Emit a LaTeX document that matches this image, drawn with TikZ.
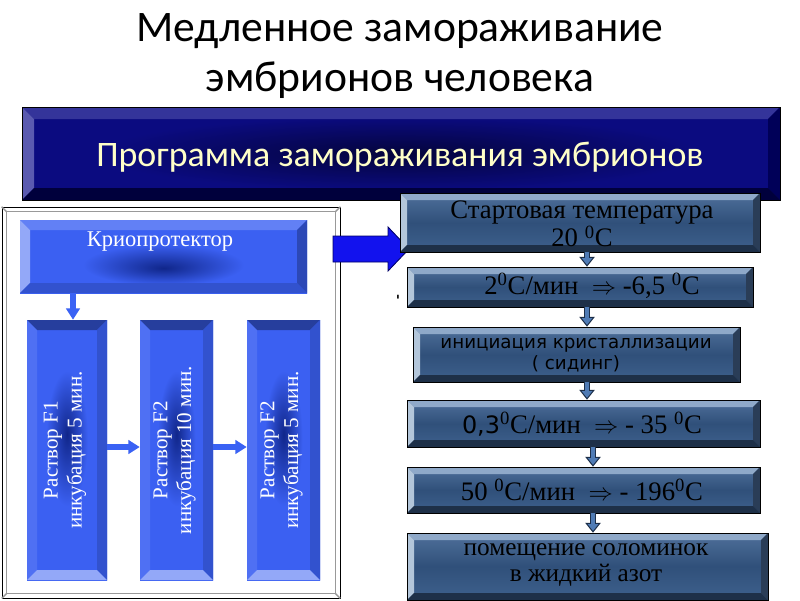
\documentclass[tikz,border=0pt]{standalone}
\usepackage{fontspec}
\setmainfont{Liberation Serif}
\newfontfamily\titlefont{Carlito}
\newfontfamily\widesans{DejaVu Sans}
\usetikzlibrary{fit, arrows.meta, calc}

\definecolor{navyface}{HTML}{0B0B80}
\definecolor{navyspot}{HTML}{04043C}
\definecolor{navytop}{HTML}{34349A}
\definecolor{navyleft}{HTML}{5A5AB0}
\definecolor{navyright}{HTML}{000058}
\definecolor{navybot}{HTML}{00003C}
\definecolor{bannerink}{HTML}{FFFFC8}
\definecolor{boxblue}{HTML}{3B60F2}
\definecolor{spotblue}{HTML}{10268A}
\definecolor{arrowblue}{HTML}{3A62F4}
\definecolor{bigblue}{HTML}{1212EE}
\definecolor{steelT}{HTML}{6E90BC}
\definecolor{steelM}{HTML}{30507A}
\definecolor{steelB}{HTML}{4C71A0}
\definecolor{steeltop}{HTML}{8FA9C9}
\definecolor{steelleft}{HTML}{B3C6DA}
\definecolor{steelright}{HTML}{2A3D57}
\definecolor{steelbot}{HTML}{1E3048}
\definecolor{steelarrow}{HTML}{4F7BB5}
\definecolor{steeldark}{HTML}{1C2E48}

\pgfdeclareradialshading{navyshade}{\pgfpoint{0bp}{0bp}}{color(0bp)=(navyspot); color(20bp)=(navyface); color(50bp)=(navyface)}
\pgfdeclareradialshading{cryoshade}{\pgfpoint{0bp}{-8bp}}{color(0bp)=(spotblue); color(14bp)=(boxblue); color(50bp)=(boxblue)}
\pgfdeclareradialshading{solshade}{\pgfpoint{0bp}{3bp}}{color(0bp)=(spotblue); color(13bp)=(boxblue); color(50bp)=(boxblue)}
\pgfdeclareverticalshading{steelshade}{100bp}{color(0bp)=(steelB); color(50bp)=(steelM); color(100bp)=(steelT)}

\tikzset{
  bevel/.style n args={5}{path picture={
    \coordinate (pnw) at (path picture bounding box.north west);
    \coordinate (pse) at (path picture bounding box.south east);
    \coordinate (pne) at (pnw -| pse);
    \coordinate (psw) at (pnw |- pse);
    \fill[#2] (pnw) -- (pne) -- ([shift={(-#1,#1)}]pne) -- ([shift={(#1,#1)}]pnw) -- cycle;
    \fill[#3] (pnw) -- (psw) -- ([shift={(#1,-#1)}]psw) -- ([shift={(#1,#1)}]pnw) -- cycle;
    \fill[#4] (pne) -- (pse) -- ([shift={(-#1,-#1)}]pse) -- ([shift={(-#1,#1)}]pne) -- cycle;
    \fill[#5] (psw) -- (pse) -- ([shift={(-#1,-#1)}]pse) -- ([shift={(#1,-#1)}]psw) -- cycle;
  }},
  navybox/.style={draw=black, line width=0.6pt, shade, shading=navyshade, inner sep=0pt,
    bevel={12}{navytop}{navyleft}{navyright}{navybot}},
  cryobox/.style={shade, shading=cryoshade, inner sep=0pt,
    bevel={10}{boxblue!80!white}{boxblue!55!white}{boxblue!75!black}{boxblue!85!black}},
  solbox/.style={shade, shading=solshade, inner sep=0pt,
    bevel={10}{boxblue!65!black}{boxblue!90!white}{boxblue!85!black}{boxblue!55!white}},
  stepbox/.style={draw=black, line width=0.5pt, shade, shading=steelshade, inner sep=0pt,
    bevel={7}{steeltop}{steelleft}{steelright}{steelbot}},
  steptext/.style={align=center, inner sep=0pt, font=\fontsize{19}{14}\selectfont},
  titletext/.style={font=\titlefont\fontsize{31}{36}\selectfont, align=center, inner sep=0pt},
  bannertext/.style={text=bannerink, inner sep=0pt, font=\titlefont\fontsize{25.5}{30}\selectfont},
  whitetext/.style={text=white, align=center, inner sep=0pt, font=\fontsize{15}{17}\selectfont},
  framegray/.style={draw=gray!80, line width=1pt},
  bluearrow/.style={draw=arrowblue, line width=3.6pt, -{Triangle[length=8pt, width=9.5pt]}},
  steeledge/.style={draw=steeldark, line width=4.6pt,
    -{Triangle[length=7pt, width=11pt, line width=0.7pt, fill=steelarrow]}},
  steelcore/.style={draw=steelarrow, line width=3.2pt, shorten >=6.5pt},
  bigarrow/.style={fill=bigblue, draw=blue!40!black, line width=0.6pt}
}

\begin{document}
\begin{tikzpicture}[x=0.025cm, y=-0.025cm]
  \useasboundingbox (0,0) rectangle (800,600);
  \node[titletext] (title) at (400,56) {Медленное замораживание\\эмбрионов человека};
  \node[navybox, fit={(22,107)(780,200)}] (banner) {};
  \node[bannertext] (bannert) at (400,157) {Программа замораживания эмбрионов};

  % left panel with the solutions
  \node[draw=black, line width=0.5pt, fill=white, inner sep=0pt, fit={(2,207)(340,598)}] (panel) {};
  \draw[framegray] ([shift={(5,5)}]panel.north west) rectangle ([shift={(-5,-5)}]panel.south east);
  \foreach \c/\dx/\dy in {north west/5/5, north east/-5/5, south west/5/-5, south east/-5/-5}
    \draw[framegray] (panel.\c) -- ++(\dx,\dy);
  \node[cryobox, fit={(20,220)(307,293)}] (cryo) {};
  \node[whitetext, font=\fontsize{16}{18}\selectfont] (cryot) at (160,242) {Криопротектор};
  \foreach \n/\xa/\xb/\txt in {f1/27/107/{Раствор F1\\инкубация 5 мин.},
      f2/140/213/{Раствор F2\\инкубация 10 мин.}, f3/247/320/{Раствор F2\\инкубация 5 мин.}}{
    \node[solbox, fit={(\xa,320)(\xb,580)}] (\n) {};
    \node[whitetext, rotate=90] (t\n) at ([xshift=-0.05cm]\n.center) {\txt};
  }
  \draw[bluearrow] (cryo.south -| 73,0) -- (f1.north -| 73,0);
  \draw[bluearrow] (f1.east |- 0,447) -- (f2.west |- 0,447);
  \draw[bluearrow] (f2.east |- 0,447) -- (f3.west |- 0,447);

  % big arrow into the program
  \coordinate (bigfrom) at (333,249);
  \filldraw[bigarrow] (bigfrom) ++(0,-13) -- ++(55,0) -- ++(0,-9) -- ++(21,22)
    -- ++(-21,22) -- ++(0,-9) -- ++(-55,0) -- cycle;
  \node[inner sep=0pt, font=\widesans\bfseries\fontsize{10}{10}\selectfont] (tick) at (398,300) {\char39};

  % program steps
  \node[stepbox, fit={(400,193)(760,252)}] (s1) {};
  \node[stepbox, fit={(407,267)(753,307)}] (s2) {};
  \node[stepbox, fit={(413,327)(740,382)}] (s3) {};
  \node[stepbox, fit={(407,400)(760,447)}] (s4) {};
  \node[stepbox, fit={(407,467)(760,513)}] (s5) {};
  \node[stepbox, fit={(407,533)(768,600)}] (s6) {};
  \node[steptext] (s1t) at (582,224) {Стартовая температура\\20 \textsuperscript{0}C};
  \node[steptext] (s2t) at (592,286) {2\textsuperscript{0}C/мин\ \ $\Rightarrow$ -6,5 \textsuperscript{0}C};
  \node[steptext, font=\widesans\fontsize{13}{15}\selectfont] (s3t) at (576,355) {инициация кристаллизации\\( сидинг)};
  \node[steptext] (s4t) at (582,424) {{\widesans\fontsize{17}{17}\selectfont 0,3}\textsuperscript{0}C/мин\ \ $\Rightarrow$ - 35 \textsuperscript{0}C};
  \node[steptext] (s5t) at (582,490) {50 \textsuperscript{0}C/мин\ \ $\Rightarrow$ - 196\textsuperscript{0}C};
  \node[steptext, font=\fontsize{18}{18.5}\selectfont] (s6t) at (586,565) {помещение соломинок\\в жидкий азот};
  \foreach \a/\b/\x in {s1/s2/587, s2/s3/587, s3/s4/587, s4/s5/593, s5/s6/593}{
    \draw[steeledge] (\a.south -| \x,0) -- (\b.north -| \x,0);
    \draw[steelcore] (\a.south -| \x,0) -- (\b.north -| \x,0);
  }
\end{tikzpicture}
\end{document}
